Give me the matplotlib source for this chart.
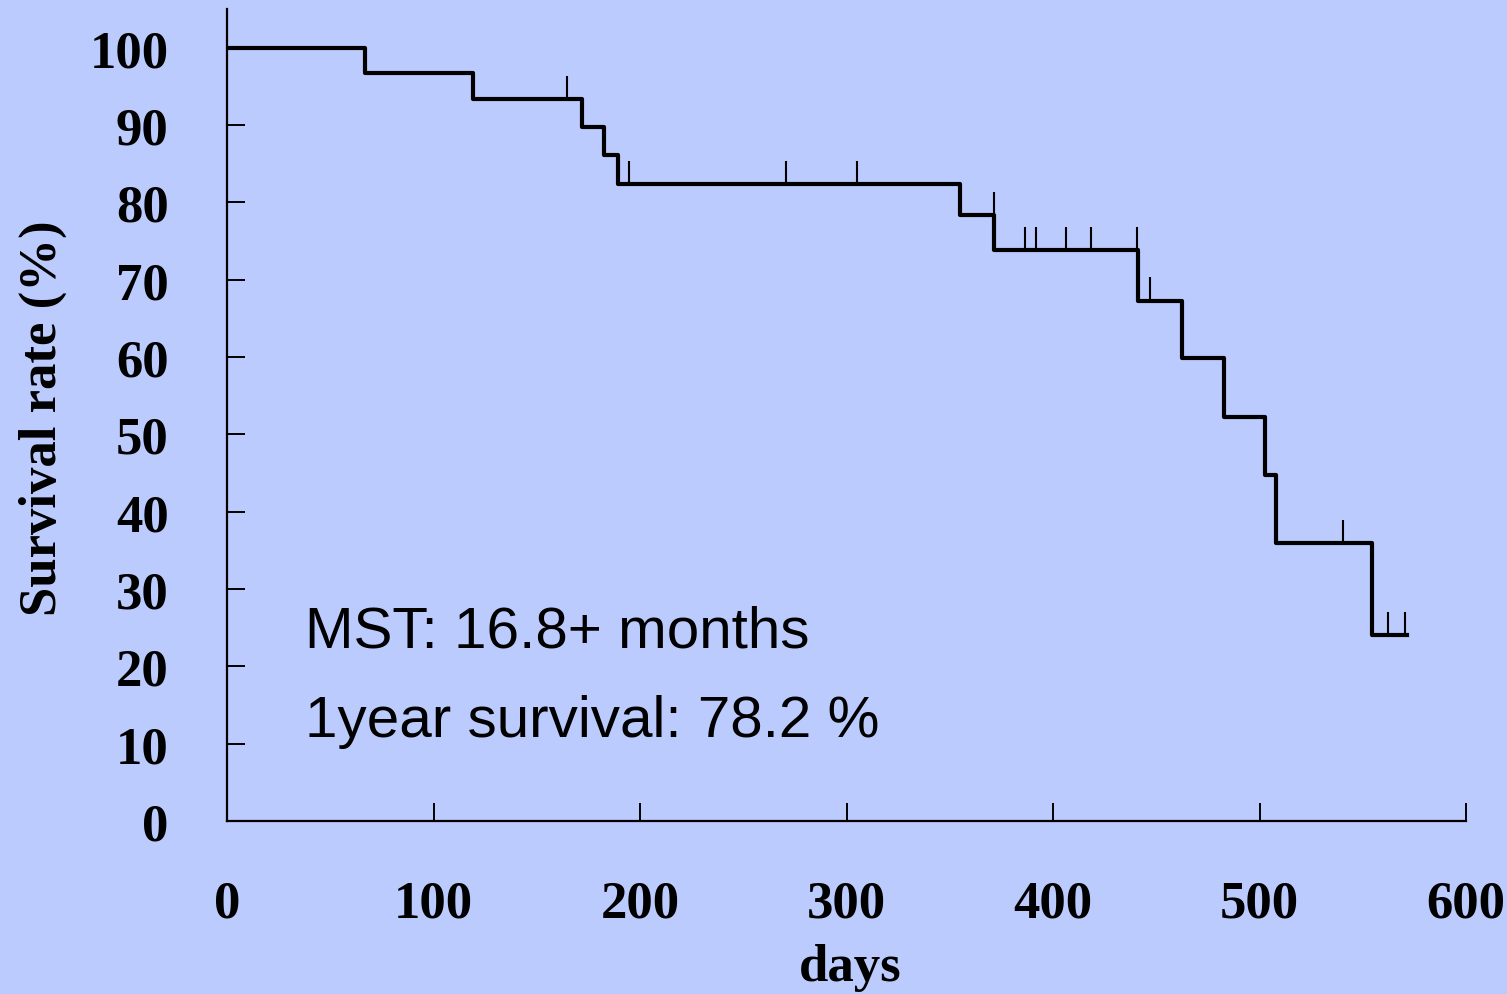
import matplotlib
matplotlib.use('Agg')
import matplotlib.pyplot as plt

# Kaplan-Meier curve
step_days = [0, 66.8, 119, 172, 182.7, 189.5, 354.8, 371.3, 441.4, 462.3, 483.0, 502.6, 508.0, 554.4, 571.3]
step_surv = [100, 96.7, 93.3, 89.8, 86.1, 82.4, 78.4, 73.8, 67.3, 59.9, 52.3, 44.8, 35.9, 24.0, 24.0]

censor_days = [164.5, 194.7, 270.7, 305, 371.3, 386.5, 391.8, 406.1, 418.2, 440.7, 447.0, 540.4, 562.0, 570.7]
censor_surv = [93.3, 82.4, 82.4, 82.4, 78.4, 73.8, 73.8, 73.8, 73.8, 73.8, 67.3, 35.9, 24.0, 24.0]

x_ticks = [0, 100, 200, 300, 400, 500, 600]
y_ticks = [0, 10, 20, 30, 40, 50, 60, 70, 80, 90, 100]

bg = '#bccbfe'
serif = ['Liberation Serif', 'DejaVu Serif']
sans = ['Liberation Sans', 'DejaVu Sans']

fig = plt.figure(figsize=(15.07, 9.95), dpi=100, facecolor=bg)
ax = fig.add_axes([227 / 1507, 173 / 995, 1239 / 1507, 812 / 995])
ax.set_facecolor(bg)

ax.step(step_days, step_surv, where='post', color='black', lw=3.0)
ax.vlines(censor_days, censor_surv, [s + 3 for s in censor_surv], color='black', lw=1.5)

ax.set_xlim(0, 600)
ax.set_ylim(0, 105)
ax.spines['top'].set_visible(False)
ax.spines['right'].set_visible(False)
ax.spines['left'].set_linewidth(1.6)
ax.spines['bottom'].set_linewidth(1.6)

ax.set_xticks(x_ticks)
ax.set_yticks(y_ticks)
ax.tick_params(direction='in', length=13, width=1.4)
ax.tick_params(axis='y', pad=42)
ax.tick_params(axis='x', pad=42)
for lab in ax.get_xticklabels() + ax.get_yticklabels():
    lab.set_fontfamily(serif)
    lab.set_fontweight('bold')
    lab.set_fontsize(38)

ax.set_xlabel('days', fontfamily=serif, fontweight='bold', fontsize=38, va='center')
ax.xaxis.set_label_coords(0.503, -0.18)
ax.set_ylabel('Survival rate (%)', fontfamily=serif, fontweight='bold', fontsize=38, va='center')
ax.yaxis.set_label_coords(-0.149, 0.4975)

ax.text(37.8, 22.5, 'MST: 16.8+ months', fontfamily=sans,
        fontsize=42, va='baseline', ha='left')
ax.text(37.8, 11.0, '1year survival: 78.2 %', fontfamily=sans,
        fontsize=42, va='baseline', ha='left')

fig.savefig('out.png', dpi=100, facecolor=bg)
